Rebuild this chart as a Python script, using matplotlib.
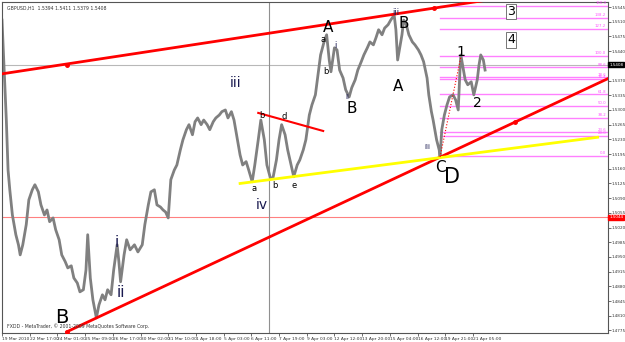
import matplotlib.pyplot as plt
import numpy as np

# hourly bar index (0 = 19 Mar 2010 00:00) and close price
bars = [0, 2, 5, 7, 9, 12, 14, 16, 19, 21, 24, 28, 31, 35, 38, 42, 45, 49, 52, 55,
        59, 62, 66, 69, 73, 76, 80, 83, 87, 90, 94, 97, 99, 102, 105, 109, 112, 116,
        119, 122, 126, 129, 133, 135, 137, 141, 144, 148, 153, 157, 162, 165, 169, 172,
        176, 179, 183, 186, 189, 192, 195, 199, 202, 206, 209, 213, 216, 220, 223, 226,
        230, 233, 237, 240, 244, 247, 251, 254, 258, 261, 265, 268, 271, 275, 278, 282,
        285, 289, 292, 296, 299, 303, 306, 310, 313, 317, 320, 323, 327, 330, 334, 337,
        341, 344, 348, 351, 355, 358, 362, 365, 368, 372, 375, 378, 380, 384, 387, 390,
        394, 397, 401, 404, 408, 411, 415, 418, 422, 425, 429, 432, 435, 439, 442, 446,
        449, 453, 455, 457, 460, 462, 464, 467, 470, 474, 477, 481, 484, 487, 491, 493,
        496, 498, 500, 502, 505, 506, 508, 511, 514, 517, 521, 524, 527, 529, 530, 533,
        535, 538, 542, 545, 549, 551, 553, 556, 558]
close = [1.5514, 1.5419, 1.5276, 1.5157, 1.5110, 1.5050, 1.5027, 1.5003, 1.4979, 1.4955,
         1.4979, 1.5027, 1.5086, 1.5110, 1.5122, 1.5105, 1.5074, 1.5050, 1.5062, 1.5034,
         1.5043, 1.5015, 1.4991, 1.4955, 1.4939, 1.4924, 1.4929, 1.4900, 1.4888, 1.4867,
         1.4872, 1.4919, 1.5003, 1.4900, 1.4848, 1.4805, 1.4836, 1.4860, 1.4848, 1.4872,
         1.4860, 1.4919, 1.4979, 1.4939, 1.4891, 1.4955, 1.4991, 1.4967, 1.4979, 1.4962,
         1.4979, 1.5027, 1.5074, 1.5105, 1.5110, 1.5074, 1.5069, 1.5062, 1.5057, 1.5043,
         1.5134, 1.5157, 1.5169, 1.5205, 1.5229, 1.5253, 1.5265, 1.5241, 1.5272, 1.5281,
         1.5265, 1.5276, 1.5265, 1.5253, 1.5272, 1.5281, 1.5288, 1.5296, 1.5300, 1.5281,
         1.5296, 1.5276, 1.5241, 1.5193, 1.5169, 1.5177, 1.5157, 1.5129, 1.5169, 1.5229,
         1.5276, 1.5229, 1.5169, 1.5138, 1.5138, 1.5181, 1.5229, 1.5265, 1.5241, 1.5205,
         1.5169, 1.5141, 1.5169, 1.5181, 1.5205, 1.5229, 1.5288, 1.5312, 1.5336, 1.5384,
         1.5431, 1.5462, 1.5479, 1.5419, 1.5391, 1.5448, 1.5443, 1.5395, 1.5376, 1.5348,
         1.5331, 1.5353, 1.5372, 1.5395, 1.5415, 1.5431, 1.5448, 1.5462, 1.5455, 1.5472,
         1.5491, 1.5479, 1.5495, 1.5503, 1.5514, 1.5526, 1.5491, 1.5419, 1.5455, 1.5479,
         1.5514, 1.5503, 1.5479, 1.5462, 1.5455, 1.5443, 1.5431, 1.5415, 1.5376, 1.5336,
         1.5296, 1.5276, 1.5253, 1.5229, 1.5205, 1.5188, 1.5253, 1.5288, 1.5312, 1.5331,
         1.5336, 1.5324, 1.5300, 1.5395, 1.5431, 1.5395, 1.5372, 1.5360, 1.5367, 1.5336,
         1.5372, 1.5407, 1.5431, 1.5419, 1.5395]

date_labels = ["19 Mar 2010", "22 Mar 17:00", "24 Mar 01:00", "25 Mar 09:00", "26 Mar 17:00",
               "30 Mar 02:00", "31 Mar 10:00", "1 Apr 18:00", "5 Apr 03:00", "6 Apr 11:00",
               "7 Apr 19:00", "9 Apr 03:00", "12 Apr 12:00", "13 Apr 20:00", "15 Apr 04:00",
               "16 Apr 12:00", "19 Apr 21:00", "21 Apr 05:00"]
price_ticks = [1.4775, 1.4810, 1.4845, 1.4880, 1.4915, 1.4950, 1.4985, 1.5020, 1.5055,
               1.5090, 1.5125, 1.5160, 1.5195, 1.5230, 1.5265, 1.5300, 1.5335, 1.5370,
               1.5440, 1.5475, 1.5510, 1.5545]

fib_levels = [0.0, 20.0, 23.6, 38.2, 50.0, 61.8, 76.4, 78.6, 88.6, 100.0, 127.2, 138.2, 150.0]
fib_low, fib_high = 1.5191, 1.5429

last_price = 1.5408
red_level = 1.5044

fig = plt.figure(figsize=(6.25, 3.42), dpi=100)
ax = fig.add_axes([0.0032, 0.0263, 0.9696, 0.9678])
ax.set_xlim(0, 700)
ax.set_ylim(1.4769, 1.5557)

# fibonacci levels
for lv in fib_levels:
    p = fib_low + (fib_high - fib_low) * lv / 100
    ax.plot([506, 700], [p, p], color="#ff80ff", lw=1, zorder=1)
    ax.text(698, p + 0.0001, "%.1f" % lv, color="#ff55ff", fontsize=2.8,
            ha="right", va="bottom")

ax.axhline(last_price, color="#b8b8b8", lw=0.8, zorder=1)
ax.axhline(red_level, color="#ff8080", lw=0.8, zorder=1)
ax.axvline(308, color="#909090", lw=0.8, zorder=1)

ax.plot(bars, close, color="#808080", lw=2.0, zorder=2)

# trend lines
ax.plot([0, 590], [1.5386, 1.5571], color="red", lw=2, zorder=3)
ax.plot([75, 720], [1.4772, 1.5394], color="red", lw=2, zorder=3)
ax.plot([275, 688], [1.5125, 1.5235], color="#ffff00", lw=2, zorder=3)
ax.plot([296, 371], [1.5293, 1.5250], color="red", lw=1.5, zorder=3)
ax.plot([506, 530], [1.5188, 1.5426], color="red", lw=0.8, ls=":", zorder=3)
ax.plot([75, 75, 499, 593], [1.4772, 1.5406, 1.5543, 1.5272], "o", color="red", ms=2.5, zorder=4)

navy = "#1a1a50"
labels = [(69, 1.4805, "B", 14, "black"), (133, 1.4984, "i", 11, navy), (137, 1.4865, "ii", 11, navy),
          (270, 1.5365, "iii", 10, navy), (300, 1.5074, "iv", 10, navy),
          (377, 1.5497, "A", 11, "black"), (404, 1.5303, "B", 11, "black"),
          (457, 1.5357, "A", 11, "black"), (464, 1.5507, "B", 11, "black"),
          (506, 1.5162, "C", 11, "black"), (520, 1.5140, "D", 15, "black"),
          (530, 1.5438, "1", 10, "black"), (549, 1.5317, "2", 10, "black"),
          (291, 1.5112, "a", 6, "black"), (315, 1.5119, "b", 6, "black"), (337, 1.5119, "e", 6, "black"),
          (300, 1.5286, "b", 6, "black"), (326, 1.5284, "d", 6, "black"),
          (371, 1.5468, "a", 6, "black"), (374, 1.5391, "b", 6, "black"),
          (385, 1.5453, "i", 6, navy), (399, 1.5332, "ii", 5, navy), (455, 1.5531, "iii", 6, navy),
          (491, 1.5212, "iii", 5, navy)]
for bx, py, txt, fs, c in labels:
    ax.text(bx, py, txt, fontsize=fs, color=c, ha="center", va="center", zorder=5)
for bx, py, txt in [(588, 1.5534, "3"), (588, 1.5467, "4")]:
    ax.text(bx, py, txt, fontsize=9, ha="center", va="center", zorder=5,
            bbox=dict(boxstyle="square,pad=0.1", fc="white", ec="#606060", lw=0.6))

ax.text(0.008, 0.988, "GBPUSD,H1  1.5394 1.5411 1.5379 1.5408", transform=ax.transAxes,
        fontsize=3.3, ha="left", va="top", color="#333333")
ax.text(0.008, 0.012, "FXDD - MetaTrader, \u00a9 2001-2009 MetaQuotes Software Corp.",
        transform=ax.transAxes, fontsize=3.3, ha="left", va="bottom", color="#333333")

ax.yaxis.tick_right()
ax.set_yticks(price_ticks)
ax.set_yticklabels(["%.4f" % p for p in price_ticks], fontsize=3.0)
ax.set_xticks(np.arange(len(date_labels)) * 32)
ax.set_xticklabels(date_labels, fontsize=3.2, ha="left")
ax.tick_params(length=2, width=0.5, pad=0.8, colors="#333333")
for s in ax.spines.values():
    s.set_color("#555555")
    s.set_linewidth(0.8)

for p, txt, fc in [(last_price, "1.5408", "black"), (red_level, "1.5044", "red")]:
    ax.text(1.002, p, txt, transform=ax.get_yaxis_transform(), fontsize=3.0, color="white",
            ha="left", va="center", bbox=dict(boxstyle="square,pad=0.2", fc=fc, ec=fc))

fig.savefig("out.png", dpi=100)
